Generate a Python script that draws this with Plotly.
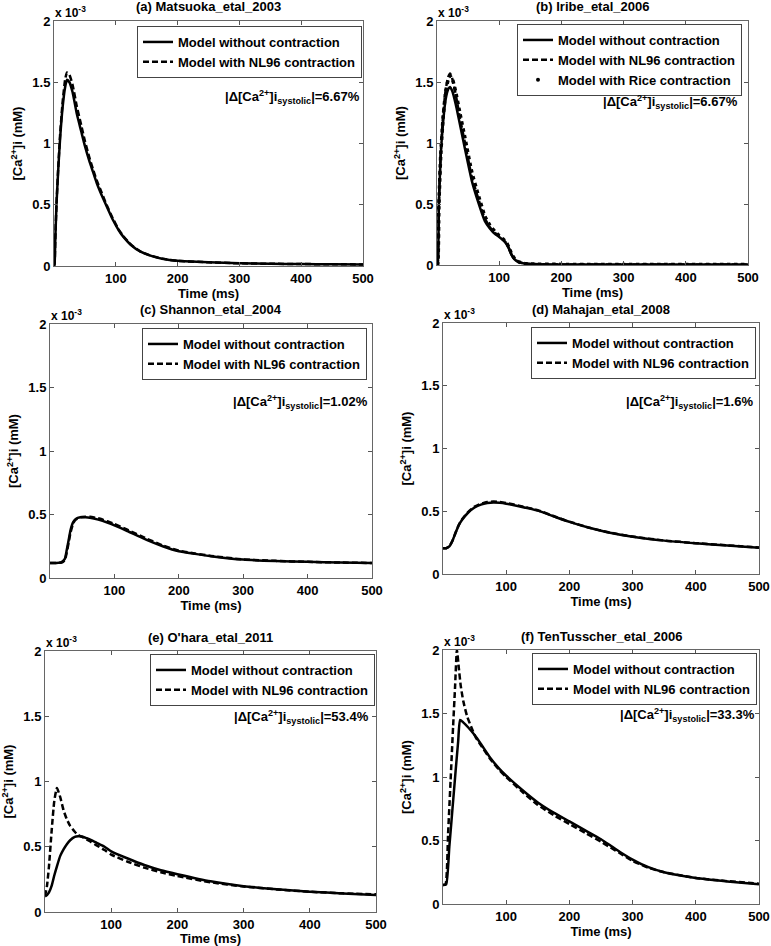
import plotly.graph_objects as go

W, H = 771, 946
FONT = "Liberation Sans"

# ---------------- data (values in units of 1e-3 mM) ----------------
# (a) Matsuoka_etal_2003
t_a = [0, 1, 2, 4, 7, 10, 14, 18, 21, 25, 30, 37, 44, 50, 57, 63, 69, 77, 85, 95,
       105, 112, 125, 140, 156, 175, 200, 250, 300, 350, 400, 450, 500]
ca_a_none = [0.0, 0.02, 0.2, 0.5, 0.8, 1.05, 1.3, 1.46, 1.52, 1.5, 1.42, 1.24, 1.1, 0.98,
             0.86, 0.77, 0.68, 0.58, 0.49, 0.38, 0.29, 0.24, 0.17, 0.117, 0.085, 0.06,
             0.042, 0.03, 0.022, 0.018, 0.016, 0.014, 0.013]
ca_a_nl96 = [0.0, 0.02, 0.2, 0.5, 0.82, 1.08, 1.34, 1.52, 1.58, 1.56, 1.48, 1.3, 1.15, 1.02,
             0.89, 0.79, 0.7, 0.6, 0.5, 0.39, 0.295, 0.245, 0.172, 0.118, 0.086, 0.06,
             0.042, 0.03, 0.022, 0.018, 0.016, 0.014, 0.013]

# (b) Iribe_etal_2006
t_b = [0, 1, 3, 6, 10, 14, 18, 21, 25, 30, 37, 45, 56, 66, 77, 85, 93, 100, 107, 112,
       116, 120, 125, 131, 140, 150, 200, 300, 400, 500]
ca_b_none = [0, 0.0, 0.5, 0.9, 1.18, 1.36, 1.44, 1.46, 1.42, 1.32, 1.15, 0.95, 0.69, 0.52,
             0.36, 0.3, 0.255, 0.23, 0.2, 0.17, 0.13, 0.08, 0.045, 0.025, 0.012, 0.008,
             0.005, 0.005, 0.005, 0.005]
ca_b_nl96 = [0, 0.0, 0.5, 0.92, 1.24, 1.44, 1.54, 1.57, 1.52, 1.4, 1.2, 1.0, 0.72, 0.55,
             0.38, 0.31, 0.265, 0.235, 0.205, 0.175, 0.135, 0.085, 0.047, 0.026, 0.012,
             0.008, 0.005, 0.005, 0.005, 0.005]
ca_b_rice = [0, 0.0, 0.48, 0.9, 1.22, 1.42, 1.52, 1.55, 1.52, 1.42, 1.24, 1.04, 0.76, 0.58,
             0.4, 0.325, 0.275, 0.24, 0.21, 0.18, 0.14, 0.09, 0.05, 0.027, 0.012, 0.008,
             0.005, 0.005, 0.005, 0.005]

# (c) Shannon_etal_2004
t_c = [0, 10, 18, 23, 26, 29, 32, 36, 40, 47, 55, 62, 75, 90, 100, 120, 150, 175, 200,
       225, 250, 300, 350, 400, 450, 500]
ca_c_none = [0.118, 0.118, 0.125, 0.15, 0.22, 0.3, 0.38, 0.44, 0.465, 0.478, 0.478, 0.475,
             0.46, 0.435, 0.415, 0.37, 0.3, 0.25, 0.21, 0.19, 0.172, 0.145, 0.134, 0.127,
             0.122, 0.118]
ca_c_nl96 = [0.118, 0.118, 0.122, 0.14, 0.2, 0.28, 0.36, 0.43, 0.46, 0.478, 0.482, 0.482,
             0.47, 0.445, 0.425, 0.38, 0.31, 0.257, 0.215, 0.193, 0.174, 0.146, 0.135,
             0.127, 0.122, 0.118]

# (d) Mahajan_etal_2008
t_d = [0, 5, 10, 15, 20, 25, 30, 40, 50, 60, 70, 80, 90, 100, 120, 150, 180, 200, 230,
       260, 300, 350, 400, 450, 500]
ca_d_none = [0.205, 0.205, 0.22, 0.265, 0.33, 0.39, 0.43, 0.49, 0.53, 0.553, 0.565, 0.57,
             0.567, 0.56, 0.54, 0.505, 0.45, 0.415, 0.37, 0.333, 0.297, 0.266, 0.245,
             0.227, 0.21]
ca_d_nl96 = [0.205, 0.205, 0.22, 0.265, 0.33, 0.39, 0.435, 0.495, 0.537, 0.56, 0.573,
             0.578, 0.574, 0.566, 0.545, 0.508, 0.452, 0.417, 0.371, 0.334, 0.298, 0.267,
             0.246, 0.228, 0.211]

# (e) O'hara_etal_2011
t_e = [0, 3, 6, 10, 14, 18, 23, 28, 33, 38, 45, 50, 56, 63, 70, 78, 90, 100, 125, 150,
       175, 200, 250, 300, 350, 400, 450, 500]
ca_e_none = [0.12, 0.13, 0.15, 0.2, 0.28, 0.35, 0.43, 0.48, 0.52, 0.55, 0.575, 0.58,
             0.578, 0.565, 0.55, 0.53, 0.5, 0.465, 0.41, 0.36, 0.32, 0.29, 0.235, 0.198,
             0.175, 0.156, 0.142, 0.13]
ca_e_nl96 = [0.12, 0.2, 0.35, 0.62, 0.85, 0.95, 0.88, 0.78, 0.71, 0.66, 0.615, 0.59,
             0.575, 0.555, 0.535, 0.51, 0.475, 0.44, 0.385, 0.34, 0.305, 0.275, 0.228,
             0.195, 0.173, 0.155, 0.143, 0.136]

# (f) TenTusscher_etal_2006
t_f_none = [0, 5, 10, 15, 20, 24, 27, 32, 40, 50, 60, 75, 90, 100, 125, 150, 175, 200,
            225, 250, 265, 280, 300, 325, 350, 400, 450, 500]
ca_f_none = [0.15, 0.155, 0.45, 0.75, 1.05, 1.28, 1.45, 1.43, 1.39, 1.33, 1.26, 1.15,
             1.06, 1.01, 0.9, 0.8, 0.72, 0.65, 0.58, 0.51, 0.46, 0.41, 0.35, 0.29, 0.25,
             0.205, 0.178, 0.155]
t_f_nl96 = [0, 4, 8, 12, 16, 19, 22, 25, 28, 32, 38, 45, 52, 60, 75, 90, 100, 125, 150,
            175, 200, 225, 250, 265, 280, 300, 325, 350, 400, 450, 500]
ca_f_nl96 = [0.15, 0.155, 0.55, 0.97, 1.4, 1.7, 2.0, 1.86, 1.72, 1.6, 1.48, 1.39, 1.31,
             1.25, 1.14, 1.05, 1.0, 0.885, 0.78, 0.7, 0.63, 0.56, 0.49, 0.445, 0.4, 0.34,
             0.285, 0.25, 0.205, 0.18, 0.16]

titles = ["(a) Matsuoka_etal_2003", "(b) Iribe_etal_2006", "(c) Shannon_etal_2004",
          "(d) Mahajan_etal_2008", "(e) O'hara_etal_2011", "(f) TenTusscher_etal_2006"]
delta_pct = ["6.67%", "6.67%", "1.02%", "1.6%", "53.4%", "33.3%"]
x_ticks = [100, 200, 300, 400, 500]
y_ticks = [0, 0.5, 1, 1.5, 2]
y_ticktext = ["0", "0.5", "1", "1.5", "2"]
lbl_none = "Model without contraction"
lbl_nl96 = "Model with NL96 contraction"
lbl_rice = "Model with Rice contraction"

# ---------------- layout geometry (pixels) ----------------
boxes = [(54, 363, 21, 266), (437, 748, 21, 265), (50, 372, 324, 578),
         (443, 759, 323, 574), (45, 376, 651, 912), (443, 759, 650, 904)]
legend_pos = [(362, 26), (742, 24), (367, 328), (756, 327), (375, 654), (757, 653)]
delta_pos = [(362, 97), (740, 102), (370, 402), (755, 402), (371, 717), (757, 715)]

series = [
    [(t_a, ca_a_none, lbl_none, "solid"), (t_a, ca_a_nl96, lbl_nl96, "dash")],
    [(t_b, ca_b_none, lbl_none, "solid"), (t_b, ca_b_nl96, lbl_nl96, "dash"),
     (t_b, ca_b_rice, lbl_rice, "rice")],
    [(t_c, ca_c_none, lbl_none, "solid"), (t_c, ca_c_nl96, lbl_nl96, "dash")],
    [(t_d, ca_d_none, lbl_none, "solid"), (t_d, ca_d_nl96, lbl_nl96, "dash")],
    [(t_e, ca_e_none, lbl_none, "solid"), (t_e, ca_e_nl96, lbl_nl96, "dash")],
    [(t_f_none, ca_f_none, lbl_none, "solid"), (t_f_nl96, ca_f_nl96, lbl_nl96, "dash")],
]

def px2x(p):
    return p / W

def px2y(p):
    return 1 - p / H

fig = go.Figure()
annotations = []
layout_upd = {}
bold = dict(family=FONT, color="black", weight="bold")

for i, (box, ser) in enumerate(zip(boxes, series)):
    n = i + 1
    sfx = "" if n == 1 else str(n)
    xa, ya = "x" + sfx, "y" + sfx
    leg = "legend" + sfx
    for (t, v, name, style) in ser:
        if style == "rice":
            fig.add_trace(go.Scatter(x=t, y=v, mode="lines", xaxis=xa, yaxis=ya,
                                     line=dict(color="black", width=3.5, dash="dot",
                                               shape="spline", smoothing=0.5),
                                     showlegend=False, legend=leg))
            fig.add_trace(go.Scatter(x=[None], y=[None], mode="markers", xaxis=xa, yaxis=ya,
                                     marker=dict(color="black", size=4), name=name,
                                     legend=leg, showlegend=True))
        else:
            fig.add_trace(go.Scatter(x=t, y=v, mode="lines", name=name, xaxis=xa, yaxis=ya,
                                     line=dict(color="black", width=2.5,
                                               dash="solid" if style == "solid" else "6px,3px",
                                               shape="spline", smoothing=0.5),
                                     legend=leg))
    x0, x1, y0, y1 = box
    layout_upd["xaxis" + sfx] = dict(
        domain=[px2x(x0), px2x(x1)], anchor=ya, range=[0, 500], automargin=False,
        tickvals=x_ticks, ticks="inside", ticklen=4, tickcolor="#555",
        showline=True, linecolor="#666", linewidth=1, mirror="ticks",
        showgrid=False, zeroline=False,
        tickfont=dict(size=13, **bold),
        title=dict(text="Time (ms)", font=dict(size=13, **bold), standoff=0))
    layout_upd["yaxis" + sfx] = dict(
        domain=[px2y(y1), px2y(y0)], anchor=xa, range=[0, 2], automargin=False,
        tickvals=y_ticks, ticktext=y_ticktext, ticks="inside", ticklen=4, tickcolor="#555",
        showline=True, linecolor="#666", linewidth=1, mirror="ticks",
        showgrid=False, zeroline=False,
        tickfont=dict(size=13, **bold),
        title=dict(text="[Ca<sup>2+</sup>]i (mM)", font=dict(size=13, **bold), standoff=6))
    lx, ly = legend_pos[i]
    layout_upd[leg] = dict(x=px2x(lx), y=px2y(ly), xanchor="right", yanchor="top",
                           bgcolor="white", bordercolor="#444", borderwidth=1,
                           font=dict(size=13, **bold), tracegroupgap=0,
                           itemwidth=30)
    # title
    annotations.append(dict(text=titles[i], xref="paper", yref="paper",
                            x=px2x((x0 + x1) / 2), y=px2y(y0 - 14), xanchor="center",
                            yanchor="middle", showarrow=False, font=dict(size=13, **bold)))
    # exponent label
    annotations.append(dict(text="x 10<sup>-3</sup>", xref="paper", yref="paper",
                            x=px2x(x0 - 1), y=px2y(y0 - 9), xanchor="left", yanchor="middle",
                            showarrow=False, font=dict(size=12, **bold)))
    # delta annotation
    dx, dy = delta_pos[i]
    annotations.append(dict(text="|\u0394[Ca<sup>2+</sup>]i<sub>systolic</sub>|=" + delta_pct[i],
                            xref="paper", yref="paper", x=px2x(dx), y=px2y(dy),
                            xanchor="right", yanchor="middle", showarrow=False,
                            font=dict(size=13, **bold)))

fig.update_layout(
    template="none",
    width=W, height=H, margin=dict(l=0, r=0, t=0, b=0, autoexpand=False),
    paper_bgcolor="white", plot_bgcolor="white",
    font=dict(family=FONT, color="black", size=13, weight="bold"),
    annotations=annotations, **layout_upd)

fig.write_html("out.html", config={"displayModeBar": False},
               post_script="document.body.style.margin = '0px';")
